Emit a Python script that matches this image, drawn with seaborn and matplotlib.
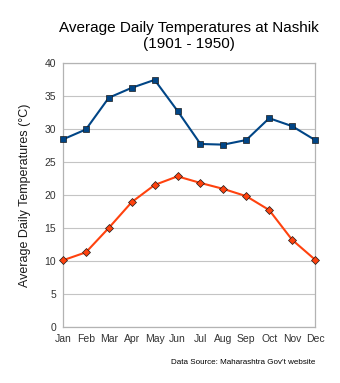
import matplotlib
matplotlib.use("Agg")
import matplotlib.pyplot as plt
import seaborn as sns
import pandas as pd

months = ["Jan", "Feb", "Mar", "Apr", "May", "Jun", "Jul", "Aug", "Sep", "Oct", "Nov", "Dec"]
max_temp = [28.4, 29.9, 34.7, 36.2, 37.4, 32.7, 27.7, 27.6, 28.3, 31.6, 30.4, 28.3]
min_temp = [10.1, 11.3, 15.0, 18.9, 21.5, 22.8, 21.8, 20.9, 19.8, 17.7, 13.2, 10.2]
y_ticks = [0, 5, 10, 15, 20, 25, 30, 35, 40]

title = "Average Daily Temperatures at Nashik\n(1901 - 1950)"
ylabel = "Average Daily Temperatures (°C)"
source = "Data Source: Maharashtra Gov't website"

sns.set_style("white")
plt.rcParams["font.family"] = ["Liberation Sans", "DejaVu Sans"]

df = pd.DataFrame({
    "month": months * 2,
    "pos": list(range(len(months))) * 2,
    "temp": max_temp + min_temp,
    "series": ["max"] * len(months) + ["min"] * len(months),
})

fig = plt.figure(figsize=(3.4, 3.83), dpi=100)
ax = fig.add_axes([63 / 340, 1 - 327 / 383, (315 - 63) / 340, (327 - 62.7) / 383])

ax.yaxis.grid(True, color="#c4c4c4", linewidth=0.8, zorder=0)
ax.set_axisbelow(True)

sns.lineplot(data=df[df.series == "max"], x="pos", y="temp", color="#004586",
             marker="s", linewidth=1.5, markersize=4.6, markeredgecolor="#1a1a1a",
             markeredgewidth=0.5, legend=False, ax=ax, zorder=3, clip_on=False)
sns.lineplot(data=df[df.series == "min"], x="pos", y="temp", color="#ff420e",
             marker="D", linewidth=1.5, markersize=3.8, markeredgecolor="#1a1a1a",
             markeredgewidth=0.5, legend=False, ax=ax, zorder=3, clip_on=False)

ax.set_xlim(0, len(months) - 1)
ax.set_ylim(0, 40)
ax.set_xticks(range(len(months)))
ax.set_xticklabels(months)
ax.set_yticks(y_ticks)
ax.set_xlabel("")
ax.set_ylabel(ylabel, fontsize=9, color="#1a1a1a", labelpad=10)
ax.tick_params(axis="both", labelsize=7.5, colors="#333333", length=3,
               width=0.6, direction="out", color="#b3b3b3", pad=2)
for s in ax.spines.values():
    s.set_color("#b3b3b3")
    s.set_linewidth(0.9)

fig.text((63 + 315) / 2 / 340, 1 - 36 / 383, title, ha="center", va="center",
         fontsize=11, color="#000000", linespacing=1.1)
fig.text(315 / 340, 1 - 362 / 383, source, ha="right", va="center",
         fontsize=5.8, color="#000000")

fig.savefig("out.png", dpi=100)
